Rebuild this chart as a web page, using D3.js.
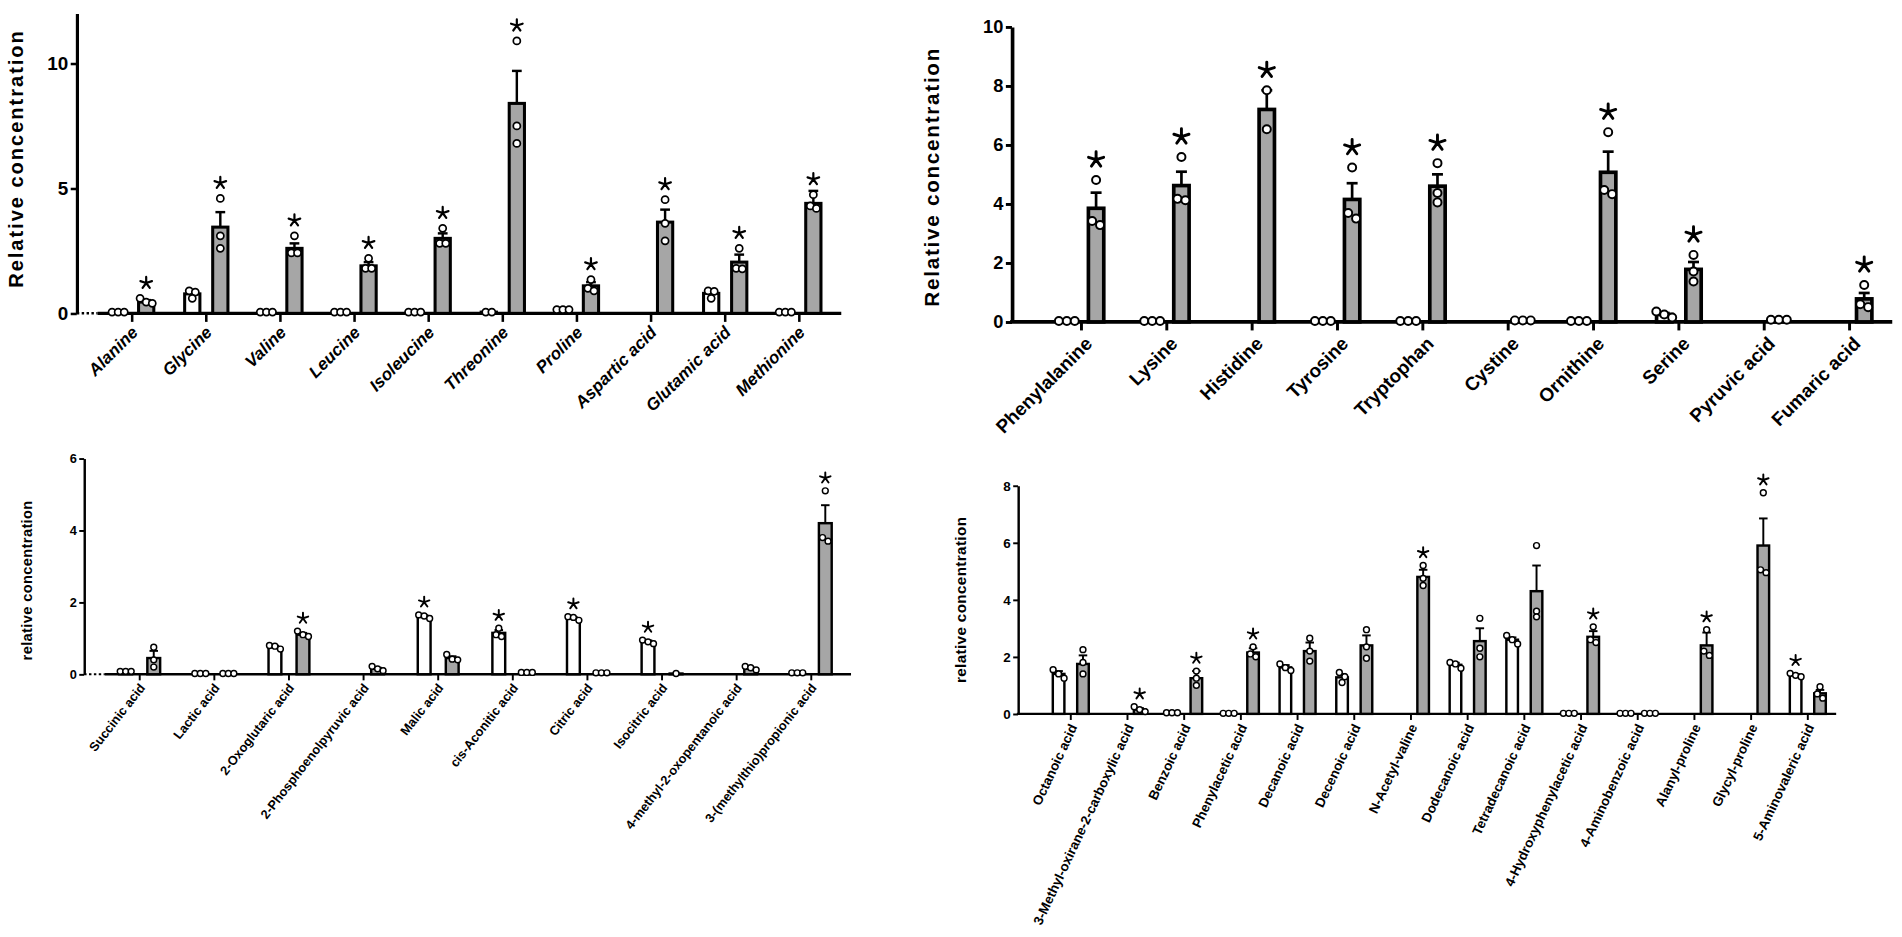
<!DOCTYPE html>
<html>
<head>
<meta charset="utf-8">
<script src="https://cdn.jsdelivr.net/npm/d3@7"></script>
<style>
  html, body { margin: 0; padding: 0; background: #fff; }
  svg { display: block; }
  text { font-family: "Liberation Sans", Arial, sans-serif; font-weight: bold; fill: #000; }
</style>
</head>
<body>
<div id="chart"></div>
<script>
// ---- top left: amino acids (italic labels)
var aCats = ["Alanine", "Glycine", "Valine", "Leucine", "Isoleucine", "Threonine", "Proline", "Aspartic acid", "Glutamic acid", "Methionine"];
var aCtrl = [0.05, 0.78, 0.05, 0.05, 0.05, 0.05, 0.15, null, 0.8, 0.05];
var aCtrlSem = [0, 0.08, 0, 0, 0, 0, 0.02, 0, 0.1, 0];
var aCtrlPts = [[0.05, 0.05, 0.05], [0.9, 0.85, 0.6], [0.05, 0.05, 0.05], [0.05, 0.05, 0.05], [0.05, 0.05, 0.05], [0.05, 0.05], [0.15, 0.15, 0.15], [], [0.9, 0.88, 0.6], [0.05, 0.05, 0.05]];
var aTrt = [0.45, 3.45, 2.6, 1.9, 3.0, 8.4, 1.1, 3.65, 2.05, 4.4];
var aTrtSem = [0.08, 0.6, 0.2, 0.15, 0.2, 1.3, 0.15, 0.5, 0.3, 0.5];
var aTrtPts = [[0.6, 0.45, 0.4], [4.6, 3.1, 2.6], [3.1, 2.42, 2.42], [2.2, 1.8, 1.8], [3.4, 2.8, 2.8], [10.9, 7.5, 6.8], [1.35, 1.0, 0.9], [4.55, 3.6, 2.9], [2.6, 1.8, 1.78], [4.75, 4.3, 4.2]];
var aStars = ["t", "t", "t", "t", "t", "t", "t", "t", "t", "t"];
var aTicks = [0, 5, 10];

// ---- top right: amino acids
var bCats = ["Phenylalanine", "Lysine", "Histidine", "Tyrosine", "Tryptophan", "Cystine", "Ornithine", "Serine", "Pyruvic acid", "Fumaric acid"];
var bCtrl = [0.03, 0.03, null, 0.03, 0.03, null, 0.03, 0.25, null, null];
var bCtrlSem = [0, 0, 0, 0, 0, 0, 0, 0.05, 0, 0];
var bCtrlPts = [[0.03, 0.03, 0.03], [0.03, 0.03, 0.03], [], [0.03, 0.03, 0.03], [0.03, 0.03, 0.03], [], [0.03, 0.03, 0.03], [0.35, 0.25, 0.15], [], []];
var bTrt = [3.85, 4.62, 7.2, 4.15, 4.6, 0.05, 5.07, 1.78, 0.07, 0.78];
var bTrtSem = [0.53, 0.47, 0.65, 0.55, 0.4, 0, 0.7, 0.25, 0, 0.2];
var bTrtPts = [[4.81, 3.42, 3.28], [5.59, 4.17, 4.12], [7.85, 6.53], [5.23, 3.69, 3.5], [5.38, 4.37, 4.05], [0.05, 0.05, 0.05], [6.43, 4.47, 4.33], [2.27, 1.71, 1.37], [0.07, 0.07, 0.07], [1.25, 0.6, 0.5]];
var bStars = ["t", "t", "t", "t", "t", "", "t", "t", "", "t"];
var bTicks = [0, 2, 4, 6, 8, 10];

// ---- bottom left: organic acids
var cCats = ["Succinic acid", "Lactic acid", "2-Oxoglutaric acid", "2-Phosphoenolpyruvic acid", "Malic acid", "cis-Aconitic acid", "Citric acid", "Isocitric acid", "4-methyl-2-oxopentanoic acid", "3-(methylthio)propionic acid"];
var cCtrl = [0.08, 0.02, 0.75, null, 1.6, 1.15, 1.55, 0.9, null, 0.04];
var cCtrlSem = [0, 0, 0.04, 0, 0.04, 0.08, 0.04, 0.04, 0, 0];
var cCtrlPts = [[0.08, 0.08, 0.08], [0.02, 0.02, 0.02], [0.8, 0.78, 0.7], [], [1.65, 1.62, 1.55], [1.28, 1.1, 1.05], [1.6, 1.58, 1.5], [0.95, 0.9, 0.85], [], [0.04, 0.04, 0.04]];
var cTrt = [0.45, 0.02, 1.1, 0.15, 0.45, 0.05, 0.04, 0.02, 0.15, 4.2];
var cTrtSem = [0.2, 0, 0.05, 0.03, 0.05, 0, 0, 0, 0.03, 0.5];
var cTrtPts = [[0.75, 0.4, 0.2], [0.02, 0.02, 0.02], [1.2, 1.1, 1.05], [0.22, 0.15, 0.1], [0.55, 0.42, 0.4], [0.05, 0.05, 0.05], [0.04, 0.04, 0.04], [0.02], [0.22, 0.18, 0.12], [5.1, 3.8, 3.7]];
var cStars = ["", "", "t", "", "c", "c", "c", "c", "", "t"];
var cTicks = [0, 2, 4, 6];

// ---- bottom right: fatty acids and others
var dCats = ["Octanoic acid", "3-Methyl-oxirane-2-carboxylic acid", "Benzoic acid", "Phenylacetic acid", "Decanoic acid", "Decenoic acid", "N-Acetyl-valine", "Dodecanoic acid", "Tetradecanoic acid", "4-Hydroxyphenylacetic acid", "4-Aminobenzoic acid", "Alanyl-proline", "Glycyl-proline", "5-Aminovaleric acid"];
var dCtrl = [1.4, null, 0.04, 0.02, 1.63, 1.28, null, 1.72, 2.6, 0.02, 0.02, null, null, 1.35];
var dCtrlSem = [0.1, 0, 0, 0, 0.08, 0.12, 0, 0.07, 0.08, 0, 0, 0, 0, 0.04];
var dCtrlPts = [[1.55, 1.4, 1.25], [], [0.04, 0.04, 0.04], [0.02, 0.02, 0.02], [1.75, 1.62, 1.52], [1.45, 1.3, 1.1], [], [1.8, 1.75, 1.6], [2.75, 2.6, 2.45], [0.02, 0.02, 0.02], [0.02, 0.02, 0.02], [], [], [1.42, 1.35, 1.3]];
var dTrt = [1.75, 0.15, 1.25, 2.15, 2.2, 2.4, 4.8, 2.55, 4.3, 2.7, 0.02, 2.4, 5.9, 0.72];
var dTrtSem = [0.3, 0.05, 0.25, 0.15, 0.3, 0.35, 0.25, 0.45, 0.9, 0.2, 0, 0.45, 0.95, 0.12];
var dTrtPts = [[2.25, 1.8, 1.4], [0.25, 0.15, 0.08], [1.5, 1.25, 1.0], [2.35, 2.1, 2.0], [2.65, 2.2, 1.85], [2.95, 2.35, 1.95], [5.2, 4.75, 4.5], [3.35, 2.3, 2.0], [5.9, 3.6, 3.4], [3.05, 2.6, 2.5], [0.02, 0.02, 0.02], [2.95, 2.2, 2.05], [7.75, 5.05, 4.95], [0.95, 0.7, 0.55]];
var dStars = ["", "t", "t", "t", "", "", "t", "", "", "t", "", "t", "t", "c"];
var dTicks = [0, 2, 4, 6, 8];

var GRAY = "#a6a6a6";

// drawing in a 1560-wide frame, stretched to the 1902x937 window
var svg = d3.select("#chart").append("svg")
  .attr("width", 1902)
  .attr("height", 937)
  .attr("viewBox", "0 0 1560 768.5");

function starPath(cx, cy, R) {
  var p = d3.path();
  for (var k = 0; k < 5; k++) {
    var a = -Math.PI / 2 + k * 2 * Math.PI / 5;
    p.moveTo(cx, cy);
    p.lineTo(cx + R * Math.cos(a), cy + R * Math.sin(a));
  }
  return p.toString();
}

// spread points that would overlap side by side
function swarm(vals, y, d) {
  var ys = vals.map(function(v) { return y(v); });
  var order = d3.range(vals.length).sort(function(a, b) { return ys[a] - ys[b]; });
  var clusters = [], cur = [];
  order.forEach(function(i) {
    if (cur.length && ys[i] - ys[cur[cur.length - 1]] >= d) { clusters.push(cur); cur = []; }
    cur.push(i);
  });
  if (cur.length) clusters.push(cur);
  var out = [];
  clusters.forEach(function(c) {
    c.forEach(function(i, k) { out.push({ y: ys[i], dx: (k - (c.length - 1) / 2) * d }); });
  });
  return out;
}

function drawPanel(D, L) {
  var g = svg.append("g");

  var x = d3.scaleBand().domain(D.cats).range([L.x0, L.x1]);
  var y = d3.scaleLinear().domain([0, L.yMax]).range([L.y0, L.yTop]);

  // y axis
  var yAxis = g.append("g")
    .attr("transform", "translate(" + L.yAxisX + ",0)")
    .call(d3.axisLeft(y).tickValues(D.ticks).tickFormat(d3.format("d"))
      .tickSize(L.tickLen).tickSizeOuter(0).tickPadding(2));
  yAxis.select(".domain").attr("stroke-width", L.axisSW);
  yAxis.selectAll(".tick line").attr("stroke-width", L.axisSW * 0.8);
  yAxis.selectAll(".tick text").style("font-size", L.tickFont + "px").attr("fill", "#000");

  // x axis
  var xAxis = g.append("g")
    .attr("transform", "translate(0," + L.y0 + ")")
    .call(d3.axisBottom(x).tickSize(L.xTick).tickSizeOuter(0));
  xAxis.select(".domain").remove();
  xAxis.selectAll(".tick line").attr("stroke-width", L.axisSW * 0.8);
  xAxis.selectAll(".tick text")
    .attr("x", 0).attr("y", 0).attr("dy", "0.35em")
    .attr("transform", "translate(" + L.lblDx + "," + L.lblDy + ") rotate(" + L.angle + ")")
    .style("text-anchor", "end")
    .style("font-size", L.catFont + "px")
    .style("font-style", L.italic ? "italic" : "normal")
    .attr("fill", "#000");

  if (L.dotted) {
    g.append("line")
      .attr("x1", L.yAxisX).attr("x2", L.x0 + 2)
      .attr("y1", L.y0).attr("y2", L.y0)
      .attr("stroke", "#000").attr("stroke-width", L.axisSW * 0.8)
      .attr("stroke-dasharray", "2,2");
    g.append("line")
      .attr("x1", L.x0 + 2).attr("x2", L.axisEnd)
      .attr("y1", L.y0).attr("y2", L.y0)
      .attr("stroke", "#000").attr("stroke-width", L.axisSW);
  } else {
    g.append("line")
      .attr("x1", L.yAxisX - L.axisSW / 2).attr("x2", L.axisEnd)
      .attr("y1", L.y0).attr("y2", L.y0)
      .attr("stroke", "#000").attr("stroke-width", L.axisSW);
  }

  // axis title
  g.append("text")
    .attr("transform", "translate(" + L.titleX + "," + L.titleY + ") rotate(-90)")
    .attr("text-anchor", "middle")
    .attr("dominant-baseline", "central")
    .style("font-size", L.titleFont + "px")
    .style("letter-spacing", L.titleLS + "px")
    .text(L.title);

  var recs = [];
  D.cats.forEach(function(c, i) {
    recs.push({ cat: c, side: -1, fill: "#fff", mean: D.ctrl[i], sem: D.ctrlSem[i], pts: D.ctrlPts[i], star: D.stars[i] === "c" });
    recs.push({ cat: c, side: 1, fill: GRAY, mean: D.trt[i], sem: D.trtSem[i], pts: D.trtPts[i], star: D.stars[i] === "t" });
  });
  recs.forEach(function(r) { r.cx = x(r.cat) + x.bandwidth() / 2 + r.side * L.off; });

  var withBar = recs.filter(function(r) { return r.mean != null; });

  g.selectAll("rect.bar").data(withBar).enter().append("rect")
    .attr("class", "bar")
    .attr("x", function(r) { return r.cx - L.barW / 2; })
    .attr("y", function(r) { return y(r.mean); })
    .attr("width", L.barW)
    .attr("height", function(r) { return L.y0 - y(r.mean); })
    .attr("fill", function(r) { return r.fill; })
    .attr("stroke", "#000")
    .attr("stroke-width", L.barSW);

  var withErr = withBar.filter(function(r) { return r.sem > 0; });
  g.selectAll("line.err").data(withErr).enter().append("line")
    .attr("class", "err")
    .attr("x1", function(r) { return r.cx; }).attr("x2", function(r) { return r.cx; })
    .attr("y1", function(r) { return y(r.mean); })
    .attr("y2", function(r) { return y(r.mean + r.sem); })
    .attr("stroke", "#000").attr("stroke-width", L.errSW);
  g.selectAll("line.cap").data(withErr).enter().append("line")
    .attr("class", "cap")
    .attr("x1", function(r) { return r.cx - L.cap; }).attr("x2", function(r) { return r.cx + L.cap; })
    .attr("y1", function(r) { return y(r.mean + r.sem); })
    .attr("y2", function(r) { return y(r.mean + r.sem); })
    .attr("stroke", "#000").attr("stroke-width", L.errSW);

  recs.forEach(function(r) {
    g.selectAll(null).data(swarm(r.pts, y, L.spread)).enter().append("circle")
      .attr("cx", function(p) { return r.cx + p.dx; })
      .attr("cy", function(p) { return p.y; })
      .attr("r", L.r)
      .attr("fill", "#fff")
      .attr("stroke", "#000")
      .attr("stroke-width", L.ptSW);
  });

  var starred = recs.filter(function(r) { return r.star; });
  g.selectAll("path.star").data(starred).enter().append("path")
    .attr("class", "star")
    .attr("d", function(r) {
      var top = r.mean != null ? y(r.mean + (r.sem || 0)) : L.y0;
      r.pts.forEach(function(v) { top = Math.min(top, y(v) - L.r - L.ptSW / 2); });
      return starPath(r.cx, top - L.starGap - L.starR, L.starR);
    })
    .attr("fill", "none")
    .attr("stroke", "#000")
    .attr("stroke-width", L.starSW)
    .attr("stroke-linecap", "round");
}

drawPanel(
  { cats: aCats, ctrl: aCtrl, ctrlSem: aCtrlSem, ctrlPts: aCtrlPts, trt: aTrt, trtSem: aTrtSem, trtPts: aTrtPts, stars: aStars, ticks: aTicks },
  { yAxisX: 63, y0: 257, yTop: 11, yMax: 12, x0: 78, x1: 686, axisEnd: 690, dotted: true,
    off: 11.5, barW: 12.5, barSW: 2.5, axisSW: 2.6, errSW: 2, cap: 4, r: 2.9, ptSW: 1.4, spread: 5,
    starR: 5, starSW: 1.8, starGap: 4, tickFont: 15.5, tickLen: 5, xTick: 7,
    catFont: 14, italic: true, angle: -45, lblDx: 2, lblDy: 13,
    title: "Relative concentration", titleX: 13, titleY: 130, titleFont: 16.5, titleLS: 1.6 });

drawPanel(
  { cats: bCats, ctrl: bCtrl, ctrlSem: bCtrlSem, ctrlPts: bCtrlPts, trt: bTrt, trtSem: bTrtSem, trtPts: bTrtPts, stars: bStars, ticks: bTicks },
  { yAxisX: 830, y0: 264, yTop: 22, yMax: 10, x0: 852, x1: 1552, axisEnd: 1552, dotted: false,
    off: 12, barW: 12.6, barSW: 3, axisSW: 3, errSW: 2.2, cap: 4.5, r: 3.3, ptSW: 1.6, spread: 6.5,
    starR: 6.5, starSW: 2.4, starGap: 6, tickFont: 15, tickLen: 5, xTick: 7,
    catFont: 15.5, italic: false, angle: -45, lblDx: 6, lblDy: 15,
    title: "Relative concentration", titleX: 764, titleY: 145, titleFont: 17, titleLS: 1.4 });

drawPanel(
  { cats: cCats, ctrl: cCtrl, ctrlSem: cCtrlSem, ctrlPts: cCtrlPts, trt: cTrt, trtSem: cTrtSem, trtPts: cTrtPts, stars: cStars, ticks: cTicks },
  { yAxisX: 69, y0: 553, yTop: 376, yMax: 6, x0: 84, x1: 696, axisEnd: 698, dotted: true,
    off: 11.5, barW: 10.5, barSW: 2, axisSW: 2, errSW: 1.6, cap: 3.5, r: 2.4, ptSW: 1.2, spread: 4.5,
    starR: 4.5, starSW: 1.6, starGap: 3, tickFont: 10.5, tickLen: 4, xTick: 5,
    catFont: 10.5, italic: false, angle: -52, lblDx: 2, lblDy: 9,
    title: "relative concentration", titleX: 22.5, titleY: 476, titleFont: 12, titleLS: 0.3 });

drawPanel(
  { cats: dCats, ctrl: dCtrl, ctrlSem: dCtrlSem, ctrlPts: dCtrlPts, trt: dTrt, trtSem: dTrtSem, trtPts: dTrtPts, stars: dStars, ticks: dTicks },
  { yAxisX: 835, y0: 585.5, yTop: 398.3, yMax: 8, x0: 855, x1: 1506, axisEnd: 1506, dotted: false,
    off: 10, barW: 9.5, barSW: 2, axisSW: 2, errSW: 1.6, cap: 3.5, r: 2.4, ptSW: 1.2, spread: 4.5,
    starR: 4.5, starSW: 1.6, starGap: 3, tickFont: 11, tickLen: 4, xTick: 5,
    catFont: 11, italic: false, angle: -65, lblDx: 2, lblDy: 9,
    title: "relative concentration", titleX: 788, titleY: 492, titleFont: 12.5, titleLS: 0.3 });
</script>
</body>
</html>
